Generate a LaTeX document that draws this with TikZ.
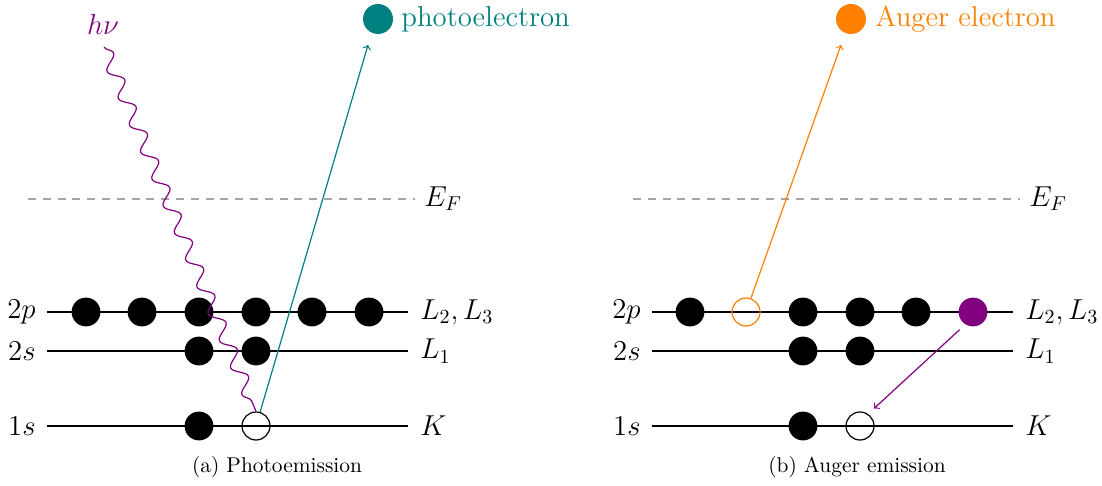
\documentclass[tikz,border=0pt]{standalone}
\usetikzlibrary{decorations.pathmorphing}
\definecolor{myviolet}{RGB}{128,0,128}
\definecolor{myteal}{RGB}{0,128,128}
\definecolor{myorange}{RGB}{255,128,0}
\definecolor{mygray}{RGB}{165,165,165}
\begin{document}
\begin{tikzpicture}[x=0.5pt,y=-0.5pt,
  lvl/.style={line width=0.65pt},
  fermi/.style={mygray,dash pattern=on 4pt off 3.4pt,line width=0.65pt},
  el/.style={circle,fill=black,minimum size=14.4pt,inner sep=0pt},
  hole/.style={circle,draw=black,line width=0.6pt,minimum size=14pt,inner sep=0pt},
  lab/.style={font=\fontsize{14.4}{17}\selectfont,inner sep=0pt},
  captext/.style={font=\fontsize{10.7}{13}\selectfont,inner sep=0pt},
  conn/.style={line width=0.6pt,->},
  wave/.style={myviolet,line width=0.6pt,decorate,decoration={snake,amplitude=3.3pt,segment length=14.6pt}}
]
\useasboundingbox (0,0) rectangle (1102,486);

% ---------- panel (a) ----------
\draw[fermi] (28,199) -- (415,199);
\node[lab,anchor=west] (efa) at (424,199) {$E_F$};
\draw[lvl] (47,312) -- (408,312);
\draw[lvl] (47,351) -- (408,351);
\draw[lvl] (47,426) -- (408,426);
\node[lab,anchor=east] (a2p) at (36,312) {$2p$};
\node[lab,anchor=east] (a2s) at (36,351) {$2s$};
\node[lab,anchor=east] (a1s) at (36,426) {$1s$};
\node[lab,anchor=west] (aL23) at (420,312) {$L_2, L_3$};
\node[lab,anchor=west] (aL1) at (420,351) {$L_1$};
\node[lab,anchor=west] (aK) at (420,426) {$K$};
\foreach \x [count=\i] in {86,142,199,256,312,369}
  \node[el] (ap\i) at (\x,312) {};
\node[el] (as1) at (199,351) {};
\node[el] (as2) at (256,351) {};
\node[el] (ak1) at (199,426) {};
\node[hole] (ak2) at (256,426) {};

\node[lab,myviolet,anchor=base] (hnu) at (103,35) {$h\nu$};
\coordinate (phs) at (104,47);
\draw[wave] (phs) -- (ak2.north);

\coordinate (pe) at (368,45);
\draw[conn,myteal] (ak2) -- (pe);
\node[circle,fill=myteal,minimum size=15pt,inner sep=0pt] (pedot) at (378,19) {};
\node[lab,myteal,anchor=base west] (petxt) at (401,27) {photoelectron};

\node[captext] (capa) at (277,467) {(a) Photoemission};

% ---------- panel (b) ----------
\draw[fermi] (633,199) -- (1020,199);
\node[lab,anchor=west] (efb) at (1029,199) {$E_F$};
\draw[lvl] (652,312) -- (1013,312);
\draw[lvl] (652,351) -- (1013,351);
\draw[lvl] (652,426) -- (1013,426);
\node[lab,anchor=east] (b2p) at (641,312) {$2p$};
\node[lab,anchor=east] (b2s) at (641,351) {$2s$};
\node[lab,anchor=east] (b1s) at (641,426) {$1s$};
\node[lab,anchor=west] (bL23) at (1025,312) {$L_2, L_3$};
\node[lab,anchor=west] (bL1) at (1025,351) {$L_1$};
\node[lab,anchor=west] (bK) at (1025,426) {$K$};
\node[el] (bp1) at (690,312) {};
\node[hole,draw=myorange] (bp2) at (746,312) {};
\node[el] (bp3) at (803,312) {};
\node[el] (bp4) at (860,312) {};
\node[el] (bp5) at (916,312) {};
\node[el,fill=myviolet] (bp6) at (973,312) {};
\node[el] (bs1) at (803,351) {};
\node[el] (bs2) at (860,351) {};
\node[el] (bk1) at (803,426) {};
\node[hole] (bk2) at (860,426) {};

\coordinate (ae) at (841,45);
\draw[conn,myorange] (bp2) -- (ae);
\node[circle,fill=myorange,minimum size=15pt,inner sep=0pt] (aedot) at (851,19) {};
\node[lab,myorange,anchor=base west] (aetxt) at (875,27) {Auger electron};

\draw[conn,myviolet,shorten <=3.8pt,shorten >=4pt] (bp6.238) -- (bk2.56);

\node[captext] (capb) at (857,467) {(b) Auger emission};
\end{tikzpicture}
\end{document}
